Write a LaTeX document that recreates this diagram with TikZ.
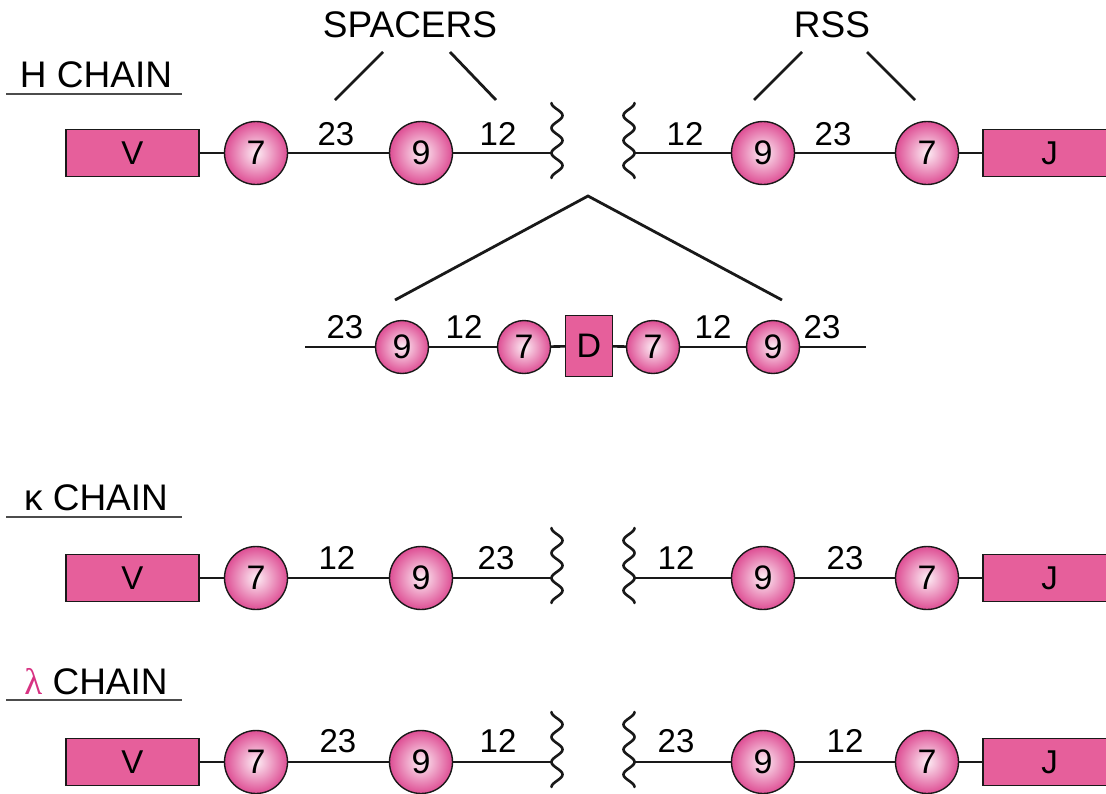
\documentclass[tikz,border=0pt]{standalone}
\usepackage{fontspec}
\setmainfont{Liberation Sans}
\newfontfamily\greekserif{Liberation Serif}
\definecolor{boxpink}{RGB}{230,95,155}
\definecolor{ballout}{RGB}{222,78,148}
\definecolor{ballin}{RGB}{253,238,245}
\definecolor{lampink}{RGB}{215,50,130}
\definecolor{ink}{RGB}{25,25,25}
\newcommand\wavyline[4]{%
  \draw[wave] plot[domain=0:75, samples=91, smooth] ({#2-(#4)*5.5*cos(\x*14.4)}, {#3-50+\x});
  \coordinate (#1) at ({#2-(#4)*5.5}, #3);
}
\begin{document}
\begin{tikzpicture}[x=1pt,y=-1pt,
  gene/.style={draw=ink, line width=1.3pt, fill=boxpink, minimum width=133pt, minimum height=47pt, inner sep=0pt, font=\fontsize{33}{33}\selectfont},
  dbox/.style={draw=ink, line width=1.3pt, fill=boxpink, minimum width=47pt, minimum height=61pt, inner sep=0pt, font=\fontsize{34}{34}\selectfont},
  hept/.style={circle, draw=ink, line width=1.4pt, inner color=ballin, outer color=ballout, minimum size=63pt, inner sep=0pt, font=\fontsize{34}{34}\selectfont},
  smallball/.style={hept, minimum size=53pt},
  num/.style={inner sep=0pt, font=\fontsize{33}{33}\selectfont},
  hdr/.style={inner sep=0pt, font=\fontsize{37}{37}\selectfont},
  dna/.style={draw=ink, line width=2.6pt},
  wave/.style={draw=ink, line width=2.6pt, line cap=round},
  pointer/.style={draw=ink, line width=2.8pt},
  uline/.style={draw=black!70, line width=1.6pt}]
\useasboundingbox (0,0) rectangle (1106,793);
\clip (0,0) rectangle (1106,793);

% ---------- top labels ----------
\node[hdr] (spacers) at (410,25) {SPACERS};
\node[hdr] (rss) at (832,25) {RSS};
\coordinate (sp1a) at (383,52); \coordinate (sp1b) at (335,100);
\coordinate (sp2a) at (450,52); \coordinate (sp2b) at (496,100);
\coordinate (rs1a) at (802,52); \coordinate (rs1b) at (754,100);
\coordinate (rs2a) at (867,52); \coordinate (rs2b) at (915,100);
\draw[pointer] (sp1a) -- (sp1b);
\draw[pointer] (sp2a) -- (sp2b);
\draw[pointer] (rs1a) -- (rs1b);
\draw[pointer] (rs2a) -- (rs2b);

% ---------- H chain ----------
\node[hdr] (hch) at (96,75) {H CHAIN};
\draw[uline] (6,94) -- (182,94);

\node[gene] (v1) at (132.5,153) {V};
\node[hept] (h7a) at (256,153) {7};
\node[hept] (h9a) at (421,153) {9};
\wavyline{hwl}{557}{153}{1}
\wavyline{hwr}{629}{153}{-1}
\node[hept] (h9b) at (763,153) {9};
\node[hept] (h7b) at (927,153) {7};
\node[gene] (j1) at (1049.5,153) {J};
\draw[dna] (v1) -- (h7a);
\draw[dna] (h7a) -- (h9a);
\draw[dna] (h9a) -- (hwl);
\draw[dna] (hwr) -- (h9b);
\draw[dna] (h9b) -- (h7b);
\draw[dna] (h7b) -- (j1);
\node[num] (hl1) at (336,134) {23};
\node[num] (hl2) at (498,134) {12};
\node[num] (hl3) at (685,134) {12};
\node[num] (hl4) at (833,134) {23};

% ---------- D segment ----------
\coordinate (apex) at (588,196);
\coordinate (apl) at (395,300);
\coordinate (apr) at (782,300);
\draw[pointer] (apl) -- (apex) -- (apr);

\coordinate (dl) at (305,347);
\coordinate (dr) at (866,347);
\node[smallball] (d9a) at (402,347) {9};
\node[smallball] (d7a) at (524,347) {7};
\node[dbox] (dd) at (589,346) {D};
\node[smallball] (d7b) at (653,347) {7};
\node[smallball] (d9b) at (773,347) {9};
\draw[dna] (dl) -- (d9a);
\draw[dna] (d9a) -- (d7a);
\draw[dna] (d7a) -- (dd);
\draw[dna] (dd) -- (d7b);
\draw[dna] (d7b) -- (d9b);
\draw[dna] (d9b) -- (dr);
\node[num] (dl1) at (345,327) {23};
\node[num] (dl2) at (464,327) {12};
\node[num] (dl3) at (713,327) {12};
\node[num] (dl4) at (822,327) {23};

% ---------- kappa chain ----------
\node[hdr] (kch) at (96,498) {κ CHAIN};
\draw[uline] (6,517) -- (182,517);

\node[gene] (v2) at (132.5,578) {V};
\node[hept] (k7a) at (256,578) {7};
\node[hept] (k9a) at (421,578) {9};
\wavyline{kwl}{557}{578}{1}
\wavyline{kwr}{629}{578}{-1}
\node[hept] (k9b) at (763,578) {9};
\node[hept] (k7b) at (927,578) {7};
\node[gene] (j2) at (1049.5,578) {J};
\draw[dna] (v2) -- (k7a);
\draw[dna] (k7a) -- (k9a);
\draw[dna] (k9a) -- (kwl);
\draw[dna] (kwr) -- (k9b);
\draw[dna] (k9b) -- (k7b);
\draw[dna] (k7b) -- (j2);
\node[num] (kl1) at (337,558) {12};
\node[num] (kl2) at (496,558) {23};
\node[num] (kl3) at (676,558) {12};
\node[num] (kl4) at (845,558) {23};

% ---------- lambda chain ----------
\node[hdr] (lch) at (96,682) {{\greekserif\color{lampink}λ} CHAIN};
\draw[uline] (6,700) -- (182,700);

\node[gene] (v3) at (132.5,762) {V};
\node[hept] (l7a) at (256,762) {7};
\node[hept] (l9a) at (421,762) {9};
\wavyline{lwl}{557}{762}{1}
\wavyline{lwr}{629}{762}{-1}
\node[hept] (l9b) at (763,762) {9};
\node[hept] (l7b) at (927,762) {7};
\node[gene] (j3) at (1049.5,762) {J};
\draw[dna] (v3) -- (l7a);
\draw[dna] (l7a) -- (l9a);
\draw[dna] (l9a) -- (lwl);
\draw[dna] (lwr) -- (l9b);
\draw[dna] (l9b) -- (l7b);
\draw[dna] (l7b) -- (j3);
\node[num] (ll1) at (338,741) {23};
\node[num] (ll2) at (498,741) {12};
\node[num] (ll3) at (676,741) {23};
\node[num] (ll4) at (845,741) {12};
\end{tikzpicture}
\end{document}
